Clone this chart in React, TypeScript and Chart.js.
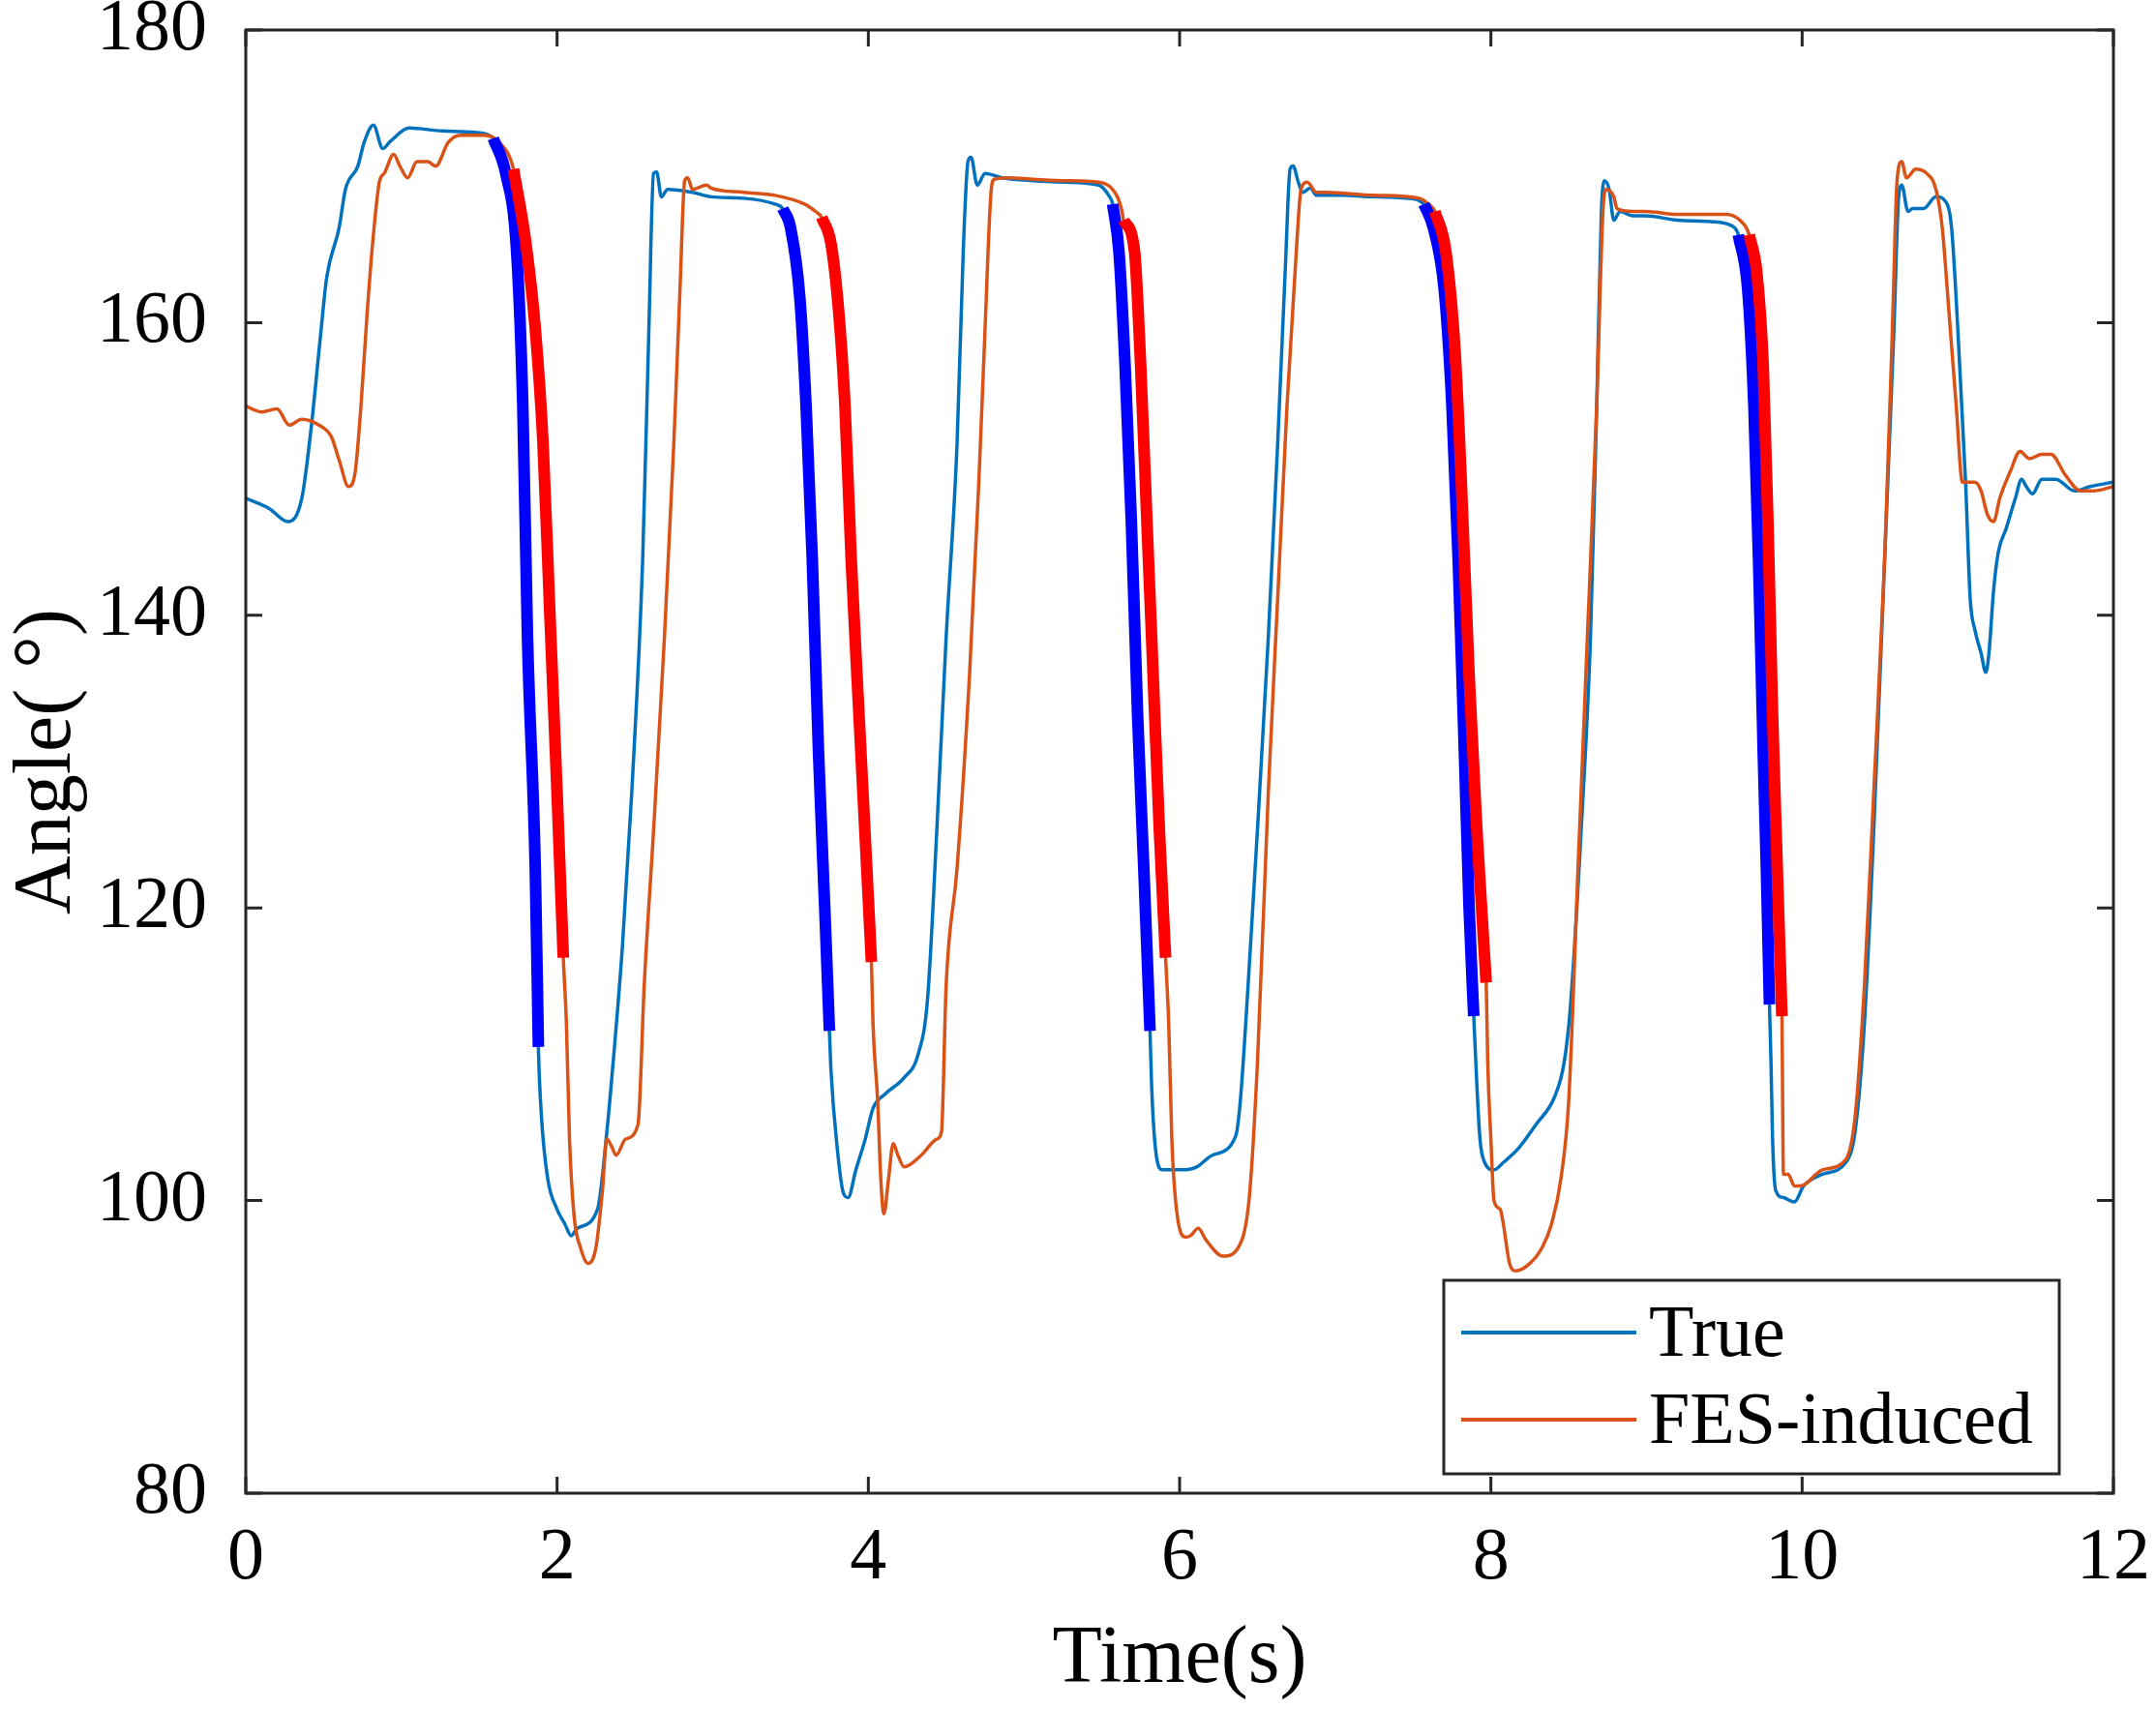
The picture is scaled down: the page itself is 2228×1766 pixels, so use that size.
import { useEffect, useRef } from "react";
import { Chart, ChartConfiguration, Plugin, registerables } from "chart.js";

Chart.register(...registerables);

// knee angle traces
const trueTime = [
    0, 0.15, 0.27, 0.36, 0.42, 0.48, 0.52, 0.6, 0.64, 0.72, 0.76, 0.82, 0.88, 0.93, 1.05, 1.26, 1.47, 1.59,
    1.67, 1.74, 1.78, 1.81, 1.86, 1.88, 1.9, 1.94, 2.0, 2.05, 2.09, 2.13, 2.26, 2.32, 2.36, 2.42, 2.48, 2.55,
    2.59, 2.62, 2.64, 2.67, 2.71, 2.87, 2.99, 3.2, 3.4, 3.45, 3.5, 3.56, 3.6, 3.64, 3.68, 3.72, 3.75, 3.76,
    3.8, 3.84, 3.87, 3.92, 3.98, 4.03, 4.11, 4.23, 4.32, 4.38, 4.44, 4.5, 4.57, 4.61, 4.64, 4.66, 4.7, 4.75,
    4.86, 5.06, 5.27, 5.48, 5.55, 5.57, 5.61, 5.65, 5.69, 5.73, 5.77, 5.81, 5.82, 5.85, 5.89, 6.01, 6.11, 6.21,
    6.36, 6.39, 6.44, 6.5, 6.57, 6.63, 6.68, 6.71, 6.73, 6.76, 6.79, 6.84, 6.88, 7.04, 7.25, 7.46, 7.57, 7.63,
    7.7, 7.75, 7.79, 7.83, 7.86, 7.89, 7.91, 7.93, 7.96, 8.02, 8.08, 8.18, 8.29, 8.41, 8.47, 8.51, 8.58, 8.64,
    8.68, 8.71, 8.73, 8.76, 8.79, 8.83, 8.91, 8.99, 9.2, 9.41, 9.55, 9.59, 9.65, 9.69, 9.72, 9.75, 9.77, 9.79,
    9.8, 9.81, 9.83, 9.88, 9.95, 10.01, 10.13, 10.28, 10.34, 10.4, 10.46, 10.53, 10.59, 10.62, 10.64, 10.68,
    10.71, 10.78, 10.86, 10.92, 10.96, 11.0, 11.05, 11.08, 11.11, 11.15, 11.18, 11.2, 11.23, 11.26, 11.31,
    11.37, 11.41, 11.44, 11.48, 11.54, 11.63, 11.75, 11.85, 12.0,
];
const trueAngle = [
    148.0, 147.3, 146.4, 148.0, 152.8, 159.1, 163.1, 166.5, 169.1, 170.7, 172.3, 173.5, 171.9, 172.4, 173.3,
    173.1, 173.0, 172.6, 170.2, 164.9, 154.3, 138.5, 122.7, 110.5, 105.7, 101.5, 99.4, 98.4, 97.6, 98.1, 99.4,
    104.7, 109.4, 117.4, 127.9, 143.8, 159.6, 170.2, 170.3, 168.6, 169.1, 168.9, 168.6, 168.5, 168.1, 167.8,
    166.5, 161.7, 154.3, 143.8, 130.6, 120.0, 111.6, 108.9, 103.6, 100.5, 100.2, 102.1, 104.2, 106.3, 107.3,
    108.4, 110.0, 113.7, 125.3, 138.5, 151.7, 164.9, 171.0, 171.3, 169.4, 170.2, 169.9, 169.7, 169.6, 169.4,
    168.6, 168.1, 164.9, 157.0, 146.4, 133.2, 122.7, 111.6, 107.9, 103.1, 102.1, 102.1, 102.3, 103.1, 104.4,
    106.8, 114.7, 125.3, 138.5, 151.7, 163.9, 170.5, 170.7, 169.7, 168.9, 169.2, 168.7, 168.7, 168.6, 168.5,
    168.1, 166.5, 162.3, 154.3, 143.8, 130.6, 120.0, 112.6, 107.9, 104.2, 102.6, 102.1, 102.6, 103.6, 105.2,
    107.1, 109.4, 113.1, 125.3, 138.5, 154.3, 167.6, 169.7, 169.1, 167.0, 167.6, 167.3, 167.3, 167.0, 166.9,
    166.6, 166.0, 162.3, 154.3, 143.8, 130.6, 122.7, 113.4, 109.4, 104.2, 100.7, 100.2, 99.9, 101.0, 101.8,
    102.6, 104.7, 112.1, 125.3, 143.8, 159.6, 168.6, 169.4, 167.6, 167.8, 167.8, 168.6, 168.3, 166.5, 159.6,
    149.1, 141.1, 139.0, 137.4, 136.1, 137.4, 141.7, 144.3, 145.9, 148.0, 149.3, 148.8, 148.3, 149.3, 149.3,
    148.5, 148.8, 149.1,
];

const fesTime = [
    0, 0.1, 0.2, 0.28, 0.36, 0.47, 0.55, 0.6, 0.66, 0.7, 0.74, 0.78, 0.82, 0.86, 0.89, 0.95, 0.99, 1.04, 1.1,
    1.17, 1.22, 1.3, 1.38, 1.53, 1.63, 1.72, 1.8, 1.86, 1.91, 1.95, 2.0, 2.04, 2.06, 2.08, 2.11, 2.15, 2.2,
    2.25, 2.29, 2.32, 2.35, 2.38, 2.44, 2.52, 2.56, 2.62, 2.69, 2.75, 2.79, 2.82, 2.84, 2.87, 2.96, 2.99, 3.2,
    3.4, 3.59, 3.66, 3.7, 3.76, 3.81, 3.85, 3.89, 3.94, 3.99, 4.02, 4.03, 4.06, 4.08, 4.1, 4.13, 4.16, 4.19,
    4.23, 4.34, 4.44, 4.47, 4.5, 4.57, 4.65, 4.71, 4.75, 4.79, 4.81, 4.9, 5.06, 5.27, 5.48, 5.6, 5.63, 5.64,
    5.71, 5.75, 5.79, 5.83, 5.87, 5.91, 5.93, 5.95, 5.98, 6.04, 6.07, 6.12, 6.17, 6.28, 6.4, 6.45, 6.5, 6.57,
    6.63, 6.69, 6.75, 6.78, 6.82, 6.88, 6.94, 7.25, 7.54, 7.6, 7.64, 7.71, 7.77, 7.81, 7.86, 7.91, 7.97, 7.98,
    8.0, 8.02, 8.06, 8.08, 8.12, 8.16, 8.25, 8.33, 8.39, 8.45, 8.5, 8.56, 8.62, 8.68, 8.72, 8.74, 8.79, 8.81,
    8.91, 8.99, 9.2, 9.51, 9.6, 9.66, 9.71, 9.75, 9.78, 9.81, 9.84, 9.87, 9.88, 9.91, 9.95, 9.99, 10.13, 10.28,
    10.34, 10.4, 10.46, 10.53, 10.58, 10.61, 10.64, 10.67, 10.73, 10.8, 10.86, 10.9, 10.94, 10.99, 11.03,
    11.11, 11.15, 11.19, 11.23, 11.27, 11.34, 11.4, 11.46, 11.54, 11.6, 11.69, 11.79, 11.87, 12.0,
];
const fesAngle = [
    154.3, 153.9, 154.1, 153.0, 153.4, 153.0, 152.2, 150.6, 148.8, 149.6, 154.3, 160.7, 166.0, 169.7, 170.2,
    171.5, 170.7, 169.9, 171.0, 171.0, 170.7, 172.3, 172.8, 172.8, 172.3, 170.5, 165.4, 159.6, 151.7, 141.1,
    127.9, 116.6, 112.1, 104.2, 98.9, 96.8, 95.7, 96.8, 100.5, 104.2, 103.7, 103.1, 104.2, 105.2, 114.7, 125.3,
    138.5, 151.7, 162.3, 169.7, 169.9, 169.1, 169.4, 169.2, 168.9, 168.7, 168.1, 167.6, 167.2, 165.4, 160.7,
    154.3, 143.8, 133.2, 122.7, 116.3, 112.1, 106.8, 101.5, 99.1, 101.5, 103.9, 103.1, 102.3, 103.1, 104.2,
    104.7, 114.7, 122.7, 135.9, 149.1, 159.6, 169.1, 169.8, 169.9, 169.8, 169.7, 169.6, 168.6, 167.6, 167.0,
    164.9, 157.0, 146.4, 135.9, 125.3, 116.6, 112.1, 104.2, 99.4, 97.5, 97.6, 98.1, 97.3, 96.2, 97.3, 100.5,
    109.4, 127.9, 141.1, 154.3, 164.9, 169.1, 169.6, 168.9, 168.9, 168.7, 168.5, 168.1, 167.6, 164.9, 158.0,
    149.1, 135.9, 125.3, 114.9, 109.4, 104.2, 100.0, 99.4, 98.4, 95.7, 95.2, 95.7, 96.8, 98.4, 101.5, 106.8,
    122.7, 138.5, 154.3, 167.6, 169.1, 168.6, 167.8, 167.6, 167.6, 167.4, 167.4, 167.0, 166.0, 163.3, 157.0,
    146.4, 133.2, 122.7, 112.6, 101.8, 101.8, 101.0, 101.0, 102.1, 102.8, 105.7, 114.7, 127.9, 143.8, 159.6,
    169.7, 171.0, 169.9, 170.5, 170.2, 169.1, 166.5, 161.2, 154.3, 149.1, 149.1, 148.5, 146.9, 146.4, 148.0,
    149.9, 151.2, 150.7, 151.0, 151.0, 149.6, 148.5, 148.5, 148.8,
];

// highlighted falling phases (start / end time, s)
const trueFallStart = [1.59, 3.45, 5.57, 7.57, 9.59];
const trueFallEnd = [1.88, 3.75, 5.81, 7.89, 9.79];
const fesFallStart = [1.72, 3.7, 5.64, 7.64, 9.66];
const fesFallEnd = [2.04, 4.02, 5.91, 7.97, 9.87];

const FONT = "'Liberation Serif', 'Times New Roman', serif";
const AXIS_COLOR = "#262626";

function toPoints(times: number[], values: number[]) {
    return times.map((t, i) => ({ x: t, y: values[i] }));
}

function fallPoints(times: number[], values: number[], starts: number[], ends: number[]) {
    return times.map((t, i) => {
        const inside = starts.some((s, k) => t >= s - 1e-9 && t <= ends[k] + 1e-9);
        return { x: t, y: inside ? values[i] : null };
    });
}

const boxTicksPlugin: Plugin<"line"> = {
    id: "boxTicks",
    afterDatasetsDraw(chart) {
        const { ctx, chartArea } = chart;
        const { left, right, top, bottom } = chartArea;
        const len = 17;
        ctx.save();
        ctx.strokeStyle = AXIS_COLOR;
        ctx.lineWidth = 3;
        ctx.strokeRect(left, top, right - left, bottom - top);
        ctx.beginPath();
        chart.scales.x.ticks.forEach(t => {
            const px = chart.scales.x.getPixelForValue(t.value);
            ctx.moveTo(px, bottom);
            ctx.lineTo(px, bottom - len);
            ctx.moveTo(px, top);
            ctx.lineTo(px, top + len);
        });
        chart.scales.y.ticks.forEach(t => {
            const py = chart.scales.y.getPixelForValue(t.value);
            ctx.moveTo(left, py);
            ctx.lineTo(left + len, py);
            ctx.moveTo(right, py);
            ctx.lineTo(right - len, py);
        });
        ctx.stroke();
        ctx.restore();
    },
};

const boxLegendPlugin: Plugin<"line"> = {
    id: "boxLegend",
    afterDraw(chart) {
        const { ctx, chartArea } = chart;
        const entries = chart.data.datasets.filter(d => (d as any).inLegend);
        const w = 636;
        const h = 200;
        const x0 = chartArea.right - 56 - w;
        const y0 = chartArea.bottom - 20 - h;
        ctx.save();
        ctx.fillStyle = "#ffffff";
        ctx.fillRect(x0, y0, w, h);
        ctx.strokeStyle = AXIS_COLOR;
        ctx.lineWidth = 3;
        ctx.strokeRect(x0, y0, w, h);
        ctx.font = `76px ${FONT}`;
        ctx.textBaseline = "middle";
        ctx.fillStyle = "#000000";
        entries.forEach((d, i) => {
            const y = y0 + 54 + i * 90;
            ctx.strokeStyle = d.borderColor as string;
            ctx.lineWidth = 4;
            ctx.beginPath();
            ctx.moveTo(x0 + 18, y);
            ctx.lineTo(x0 + 199, y);
            ctx.stroke();
            ctx.fillText(d.label ?? "", x0 + 212, y + 4);
        });
        ctx.restore();
    },
};

export default function App() {
    const canvasRef = useRef<HTMLCanvasElement | null>(null);
    const chartInstance = useRef<Chart<"line", any[], unknown> | null>(null);

    useEffect(() => {
        if (!canvasRef.current) return;
        const ctx = canvasRef.current.getContext("2d");
        if (!ctx) return;
        if (chartInstance.current) chartInstance.current.destroy();

        const config: ChartConfiguration<"line", any[], unknown> = {
            type: "line",
            data: {
                datasets: [
                    {
                        label: "True",
                        data: toPoints(trueTime, trueAngle),
                        borderColor: "#0072BD",
                        borderWidth: 3.5,
                        pointRadius: 0,
                        cubicInterpolationMode: "monotone",
                        order: 3,
                        inLegend: true,
                    } as any,
                    {
                        label: "FES-induced",
                        data: toPoints(fesTime, fesAngle),
                        borderColor: "#D95319",
                        borderWidth: 3.5,
                        pointRadius: 0,
                        cubicInterpolationMode: "monotone",
                        order: 2,
                        inLegend: true,
                    } as any,
                    {
                        label: "True fall",
                        data: fallPoints(trueTime, trueAngle, trueFallStart, trueFallEnd),
                        borderColor: "#0000FF",
                        borderWidth: 12,
                        pointRadius: 0,
                        spanGaps: false,
                        cubicInterpolationMode: "monotone",
                        order: 1,
                    },
                    {
                        label: "FES fall",
                        data: fallPoints(fesTime, fesAngle, fesFallStart, fesFallEnd),
                        borderColor: "#FF0000",
                        borderWidth: 12,
                        pointRadius: 0,
                        spanGaps: false,
                        cubicInterpolationMode: "monotone",
                        order: 0,
                    },
                ],
            },
            options: {
                animation: false,
                responsive: true,
                maintainAspectRatio: false,
                layout: { padding: { top: 31, right: 44, left: 0, bottom: 0 } },
                plugins: {
                    legend: { display: false },
                    tooltip: { enabled: false },
                },
                scales: {
                    x: {
                        type: "linear",
                        min: 0,
                        max: 12,
                        afterFit: (scale: any) => {
                            scale.height = 223;
                            scale.paddingLeft = 0;
                            scale.paddingRight = 0;
                        },
                        ticks: {
                            stepSize: 2,
                            color: "#000000",
                            padding: 30,
                            font: { family: FONT, size: 76, lineHeight: 0.8 },
                        },
                        grid: { display: false },
                        border: { display: false },
                        title: {
                            display: true,
                            text: "Time(s)",
                            color: "#000000",
                            padding: 0,
                            font: { family: FONT, size: 84 },
                        },
                    },
                    y: {
                        type: "linear",
                        min: 80,
                        max: 180,
                        afterFit: (scale: any) => {
                            scale.width = 254;
                            scale.paddingTop = 0;
                            scale.paddingBottom = 0;
                        },
                        ticks: {
                            stepSize: 20,
                            color: "#000000",
                            padding: 32,
                            font: { family: FONT, size: 76, lineHeight: 0.8 },
                        },
                        grid: { display: false },
                        border: { display: false },
                        title: {
                            display: true,
                            text: "Angle( °)",
                            color: "#000000",
                            padding: 0,
                            font: { family: FONT, size: 84 },
                        },
                    },
                },
            },
            plugins: [boxTicksPlugin, boxLegendPlugin],
        };

        chartInstance.current = new Chart(ctx, config);

        return () => {
            if (chartInstance.current) {
                chartInstance.current.destroy();
                chartInstance.current = null;
            }
        };
    }, []);

    return (
        <div style={{ position: "fixed", left: 0, top: 0, width: 2228, height: 1766, background: "#ffffff" }}>
            <canvas ref={canvasRef}></canvas>
        </div>
    );
}
